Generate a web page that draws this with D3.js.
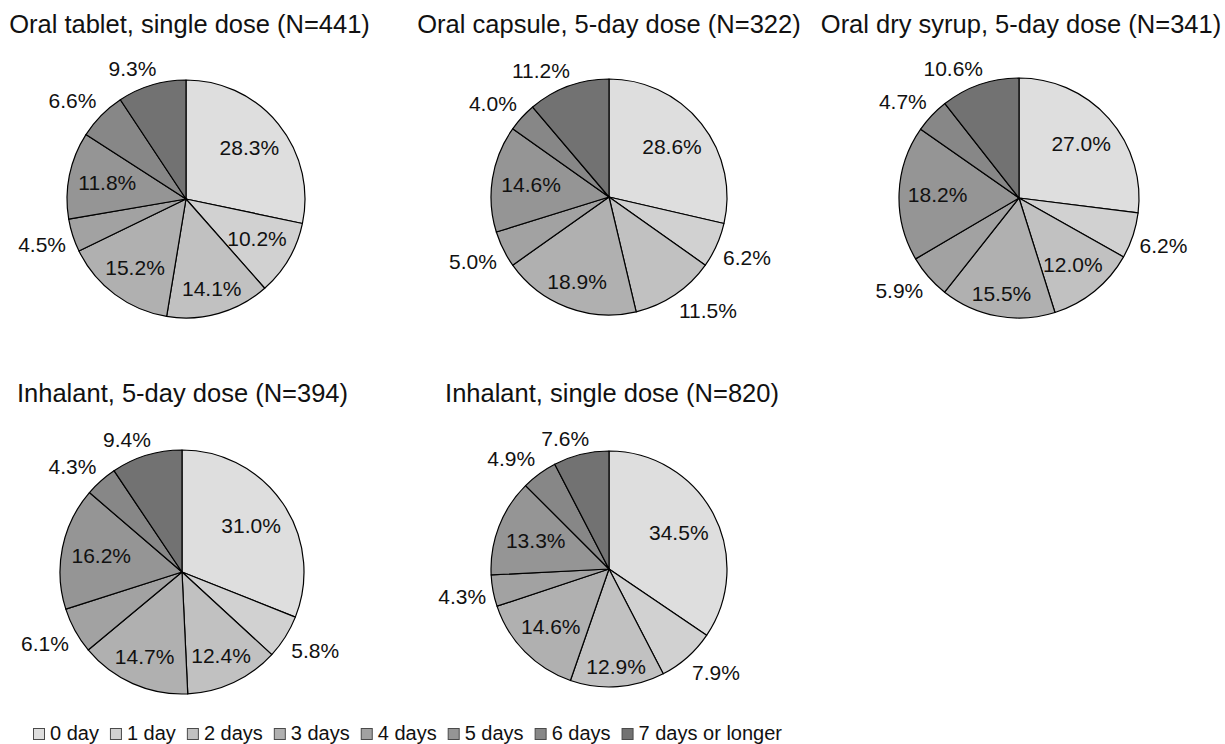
<!DOCTYPE html>
<html>
<head>
<meta charset="utf-8">
<script src="https://cdn.jsdelivr.net/npm/d3@7"></script>
<style>
  html, body { margin: 0; padding: 0; background: #fff; }
  svg { display: block; font-family: "Liberation Sans", Arial, sans-serif; }
</style>
</head>
<body>
<script>
// ---------- data ----------
const categories = ["0 day", "1 day", "2 days", "3 days", "4 days", "5 days", "6 days", "7 days or longer"];
const titles = [
  "Oral tablet, single dose (N=441)",
  "Oral capsule, 5-day dose (N=322)",
  "Oral dry syrup, 5-day dose (N=341)",
  "Inhalant, 5-day dose (N=394)",
  "Inhalant, single dose (N=820)"
];
const oralTabletSingle = [28.3, 10.2, 14.1, 15.2, 4.5, 11.8, 6.6, 9.3];
const oralCapsule5day  = [28.6, 6.2, 11.5, 18.9, 5.0, 14.6, 4.0, 11.2];
const oralDrySyrup5day = [27.0, 6.2, 12.0, 15.5, 5.9, 18.2, 4.7, 10.6];
const inhalant5day     = [31.0, 5.8, 12.4, 14.7, 6.1, 16.2, 4.3, 9.4];
const inhalantSingle   = [34.5, 7.9, 12.9, 14.6, 4.3, 13.3, 4.9, 7.6];
const seriesList = [oralTabletSingle, oralCapsule5day, oralDrySyrup5day, inhalant5day, inhalantSingle];

// ---------- styles / layout ----------
const colors = ["#dedede", "#d1d1d1", "#c1c1c1", "#b0b0b0", "#a2a2a2", "#959595", "#878787", "#727272"];
const panels = [
  { cx: 186,  cy: 199, r: 119, tx: 189.5, ty: 33 },
  { cx: 609,  cy: 197, r: 118, tx: 609,   ty: 33 },
  { cx: 1019, cy: 198, r: 120, tx: 1021,  ty: 33 },
  { cx: 182,  cy: 572, r: 122, tx: 182.5, ty: 402 },
  { cx: 609,  cy: 569, r: 118, tx: 612,   ty: 402 }
];
const W = 1225, H = 744;
const labelFont = 21, titleFont = 25.5, legendFont = 20;

const svg = d3.select("body").append("svg").attr("width", W).attr("height", H);
const color = d3.scaleOrdinal().domain(categories).range(colors);
const pie = d3.pie().sort(null).value(d => d.v).startAngle(0).endAngle(2 * Math.PI);
const fmt = d3.format(".1f");
const clamp = v => Math.max(-1, Math.min(1, v));

function angleOf(x, y) {
  let a = Math.atan2(x, -y);
  if (a < 0) a += 2 * Math.PI;
  return a;
}
function boxFits(a, r, cx, cy, bw, bh) {
  const xs = [cx - bw / 2, cx + bw / 2], ys = [cy - bh / 2, cy + bh / 2];
  for (const x of xs) for (const y of ys) {
    if (x * x + y * y > r * r) return false;
    const ang = angleOf(x, y);
    if (ang < a.startAngle || ang > a.endAngle) return false;
  }
  return true;
}
// nearest position (to ideal) where a box of given size fits inside the slice
function nearestFit(a, r, ix, iy, bw, bh) {
  let best = null, bd = Infinity;
  for (let x = -r; x <= r; x += 1) {
    for (let y = -r; y <= r; y += 1) {
      if (boxFits(a, r, x, y, bw, bh)) {
        const d = (x - ix) ** 2 + (y - iy) ** 2;
        if (d < bd) { bd = d; best = [x, y]; }
      }
    }
  }
  return best;
}

panels.forEach((p, i) => {
  const data = seriesList[i].map((v, j) => ({ v, cat: categories[j] }));
  const arcs = pie(data);
  const g = svg.append("g").attr("transform", `translate(${p.cx},${p.cy})`);
  const arc = d3.arc().innerRadius(0).outerRadius(p.r);

  g.selectAll("path.slice").data(arcs).join("path")
    .attr("class", "slice")
    .attr("d", arc)
    .attr("fill", d => color(d.data.cat))
    .attr("stroke", "#000")
    .attr("stroke-width", 1.2)
    .attr("stroke-linejoin", "round");

  arcs.forEach(a => {
    const t = g.append("text")
      .attr("text-anchor", "middle")
      .attr("font-size", labelFont)
      .attr("fill", "#111")
      .text(fmt(a.data.v) + "%");
    const w = t.node().getComputedTextLength();
    const hw = w / 2, hh = 9.5;
    const th = (a.startAngle + a.endAngle) / 2;
    const s = Math.sin(th), c = Math.cos(th);
    const inkH = labelFont * 0.716;
    let x, y;
    let inside = false;
    if (a.data.v >= 10) {
      inside = nearestFit(a, p.r, 0, 0, w + 10, inkH + 5) !== null;
    }
    if (inside) {
      const ext = hw * Math.abs(s) + hh * Math.abs(c);
      const rho = 0.93 * p.r - ext;
      x = s * rho; y = -c * rho;
      if (!boxFits(a, p.r, x, y, w, inkH)) {
        const nf = nearestFit(a, p.r, x, y, w, inkH);
        if (nf) { x = nf[0]; y = nf[1]; }
      }
    } else {
      const R = p.r + 7, k = 2.5;
      x = s * R + hw * clamp(k * s);
      y = -c * R - hh * clamp(k * c);
    }
    t.attr("x", x).attr("y", y + labelFont * 0.358);
  });

  svg.append("text")
    .attr("x", p.tx).attr("y", p.ty)
    .attr("text-anchor", "middle")
    .attr("font-size", titleFont)
    .attr("fill", "#111")
    .text(titles[i]);
});

// ---------- legend ----------
const legend = svg.append("g");
let lx = 33;
categories.forEach(cat => {
  legend.append("rect")
    .attr("x", lx + 0.5).attr("y", 728.5)
    .attr("width", 11).attr("height", 11)
    .attr("fill", color(cat))
    .attr("stroke", "#4a4a4a").attr("stroke-width", 1);
  const t = legend.append("text")
    .attr("x", lx + 17).attr("y", 739.5)
    .attr("font-size", legendFont)
    .attr("fill", "#111")
    .text(cat);
  lx += 17 + t.node().getComputedTextLength() + 11;
});
</script>
</body>
</html>
